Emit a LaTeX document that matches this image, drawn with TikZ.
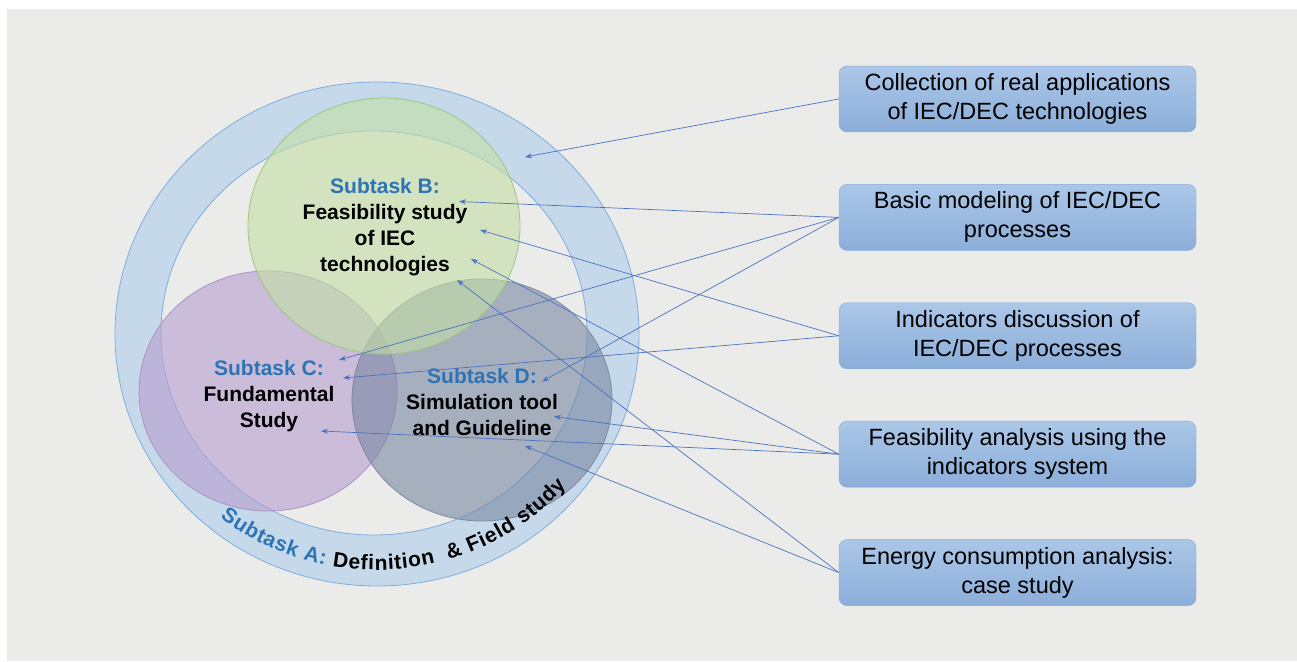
\documentclass[tikz,border=0pt]{standalone}
\usepackage{fontspec}
\setmainfont{Liberation Sans}
\usetikzlibrary{positioning, arrows.meta, shapes.geometric, decorations.text}
\definecolor{bggray}{HTML}{EBEBEA}
\definecolor{ringblue}{HTML}{A9CBEB}
\definecolor{ringline}{HTML}{7EAEDC}
\definecolor{greenB}{HTML}{C3DFA4}
\definecolor{greenBline}{HTML}{9CC77F}
\definecolor{purpleC}{HTML}{B69ECE}
\definecolor{purpleCline}{HTML}{A994C4}
\definecolor{slateD}{HTML}{7887A2}
\definecolor{slateDline}{HTML}{7D8AA0}
\definecolor{subblue}{HTML}{2E74B5}
\definecolor{boxtop}{HTML}{ABC7E8}
\definecolor{boxbot}{HTML}{8BAED9}
\definecolor{boxline}{HTML}{84AAD8}
\definecolor{linkblue}{HTML}{4A72C0}
\tikzset{
    node distance=52pt, % gap between the task boxes
    every edge/.style={ % links from the boxes into the circles
        draw,
        ->,>={Stealth[length=7pt,width=5pt]},
        linkblue,
        line width=0.7pt
    },
    subcirc/.style={ellipse, inner sep=0pt, line width=0.8pt, fill opacity=0.6},
    subtext/.style={align=center, font=\fontsize{21}{26}\selectfont\bfseries},
    taskbox/.style={
        rectangle, rounded corners=8pt,
        draw=boxline, top color=boxtop, bottom color=boxbot,
        minimum width=357pt, minimum height=66pt, inner sep=0pt,
        align=center, font=\fontsize{23.5}{29}\selectfont
    },
}
\newcommand{\subhead}[1]{{\color{subblue}#1}}

\begin{document}
\begin{tikzpicture}[x=1pt, y=1pt]
            \useasboundingbox (0,0) rectangle (1297,661);
            \fill[white] (0,0) rectangle (1297,661);
            \fill[bggray] (7,0) rectangle (1297,652);

            % subtask A ring
            \coordinate (ringc) at (376,327);
            \fill[ringblue, fill opacity=0.55, even odd rule]
                    (377,327) ellipse [x radius=262, y radius=252]
                    (374,328) ellipse [x radius=213, y radius=202];
            \draw[ringline, line width=0.8pt]
                    (377,327) ellipse [x radius=262, y radius=252]
                    (374,328) ellipse [x radius=213, y radius=202];

            \node[subcirc, fill=purpleC, draw=purpleCline, minimum width=258pt, minimum height=240pt] (circC) at (268,270) {};
            \node[subcirc, fill=slateD,  draw=slateDline,  minimum width=260pt, minimum height=242pt] (circD) at (482,261) {};
            \node[subcirc, fill=greenB,  draw=greenBline,  minimum width=272pt, minimum height=256pt] (circB) at (384,435) {};

            \node[subtext] (txtB) at (385,434)   {\subhead{Subtask B:}\\Feasibility study\\of IEC\\technologies};
            \node[subtext] (txtC) at (269,264.5) {\subhead{Subtask C:}\\Fundamental\\Study};
            \node[subtext] (txtD) at (482,259.5) {\subhead{Subtask D:}\\Simulation tool\\and Guideline};

            \path[decorate, decoration={text along path, text align=fit to path,
                    text={|\fontsize{21}{21}\selectfont\bfseries\color{subblue}|Subtask A:|\fontsize{21}{21}\selectfont\bfseries\color{black}| Definition {\ }{\&} Field study}}]
                    ([shift={(231:248 and 236)}]ringc) arc[start angle=231, end angle=320, x radius=248, y radius=236];

            \node[taskbox] (coll) at (1017.5,562) {Collection of real applications\\of IEC/DEC technologies};
            \node[taskbox, below=of coll]  (model)  {Basic modeling of IEC/DEC\\processes};
            \node[taskbox, below=of model] (indic)  {Indicators discussion of\\IEC/DEC processes};
            \node[taskbox, below=of indic] (feas)   {Feasibility analysis using the\\indicators system};
            \node[taskbox, below=of feas]  (energy) {Energy consumption analysis:\\case study};

            \coordinate (tA)  at (525,504);
            \coordinate (tB1) at (459,459.5);
            \coordinate (tB2) at (480,431);
            \coordinate (tB3) at (471,402);
            \coordinate (tB4) at (457,381);
            \coordinate (tC1) at (339,301);
            \coordinate (tC2) at (343,283);
            \coordinate (tC3) at (321,230);
            \coordinate (tD1) at (542,279.5);
            \coordinate (tD2) at (554,244.5);
            \coordinate (tD3) at (525,215);

            \draw   (coll.west)   edge (tA)
                    (model.west)  edge (tB1) edge (tC1) edge (tD1)
                    (indic.west)  edge (tB2) edge (tC2)
                    (feas.west)   edge (tB3) edge (tD2) edge (tC3)
                    (energy.west) edge (tB4) edge (tD3)
            ;
        \end{tikzpicture}
\end{document}
